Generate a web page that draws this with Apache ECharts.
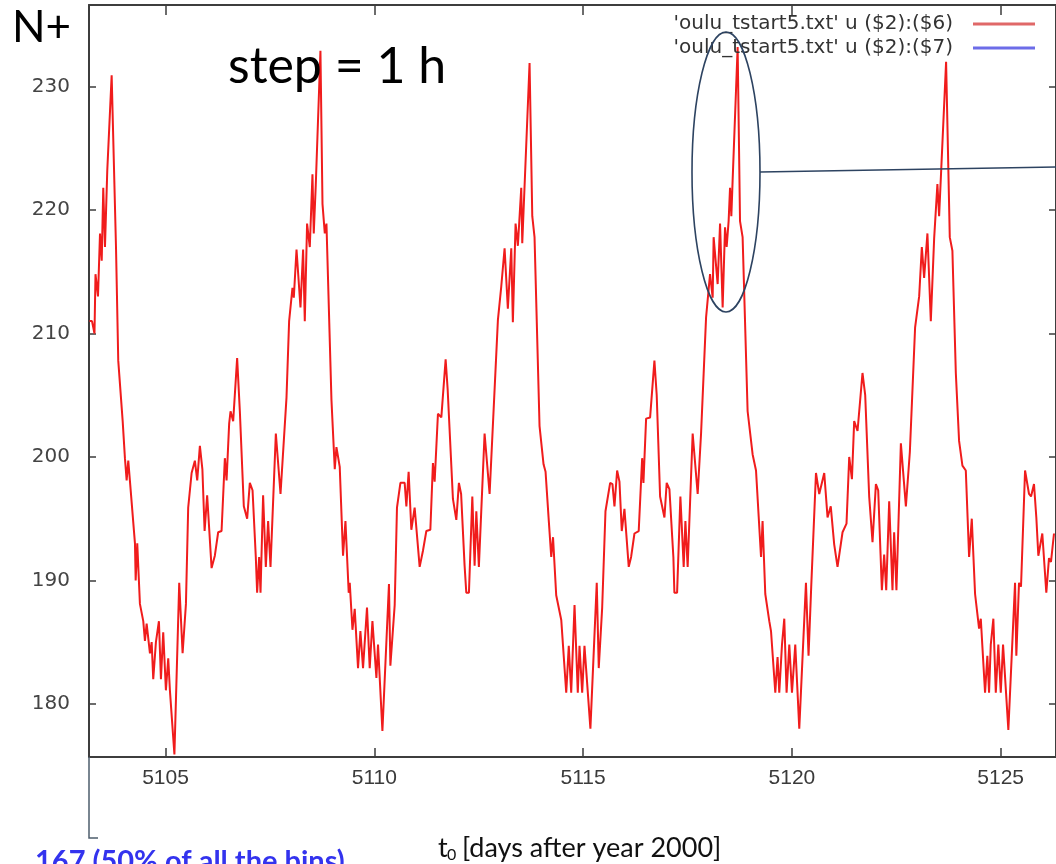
<!DOCTYPE html>
<html>
<head>
<meta charset="utf-8">
<script src="https://cdn.jsdelivr.net/npm/echarts@6/dist/echarts.min.js"></script>
<style>
  html, body { margin: 0; padding: 0; background: #ffffff; }
  #chart { width: 1056px; height: 864px; }
</style>
</head>
<body>
<div id="chart"></div>
<script>
// Hourly N+ counts from oulu_tstart5.txt: [t0 in days after 2000-01-01, N+]
const cycle1 = [
  [5103.179, 211.0], [5103.239, 211.0], [5103.299, 210.0], [5103.323, 214.8], [5103.383, 213.0],
  [5103.431, 218.1], [5103.472, 215.9], [5103.509, 221.8], [5103.550, 217.0], [5103.605, 223.2],
  [5103.710, 230.9], [5103.814, 217.0], [5103.868, 207.8], [5103.974, 202.9], [5104.028, 199.9],
  [5104.069, 198.1], [5104.108, 199.7], [5104.149, 198.0], [5104.268, 193.0], [5104.285, 190.0],
  [5104.323, 193.0], [5104.387, 188.1], [5104.467, 186.7], [5104.507, 185.1], [5104.548, 186.5],
  [5104.627, 184.1], [5104.668, 185.0], [5104.706, 182.0], [5104.770, 185.0], [5104.842, 186.7],
  [5104.890, 182.0], [5104.945, 185.8], [5105.009, 181.1], [5105.065, 183.7], [5105.105, 181.1],
  [5105.213, 175.9]
];
const cycle2 = [
  [5105.328, 189.8], [5105.409, 184.1], [5105.489, 188.1], [5105.543, 195.9], [5105.625, 198.7],
  [5105.703, 199.7], [5105.759, 198.1], [5105.823, 200.9], [5105.883, 199.0], [5105.936, 194.0],
  [5105.997, 196.9], [5106.103, 191.0], [5106.181, 192.0], [5106.261, 193.9], [5106.342, 194.0],
  [5106.421, 199.9], [5106.462, 198.1], [5106.524, 202.7], [5106.557, 203.7], [5106.620, 202.9],
  [5106.715, 208.0], [5106.780, 203.7], [5106.875, 196.0], [5106.955, 195.0], [5107.019, 197.9],
  [5107.084, 197.3], [5107.162, 191.9], [5107.194, 189.0], [5107.242, 191.9], [5107.275, 189.0],
  [5107.337, 196.9], [5107.402, 191.1], [5107.457, 194.8], [5107.514, 191.1], [5107.642, 201.9],
  [5107.754, 197.0], [5107.897, 204.8], [5107.960, 211.0], [5108.040, 213.7], [5108.072, 212.9],
  [5108.137, 216.8], [5108.232, 212.1], [5108.295, 216.8], [5108.335, 211.0], [5108.390, 218.9],
  [5108.455, 217.0], [5108.519, 222.9], [5108.550, 218.1], [5108.598, 222.0], [5108.710, 232.9],
  [5108.759, 220.5], [5108.814, 218.1], [5108.854, 218.9], [5108.974, 204.6], [5109.053, 199.0],
  [5109.093, 200.8], [5109.172, 199.2], [5109.251, 192.0], [5109.309, 194.8], [5109.387, 189.0],
  [5109.412, 189.8], [5109.477, 186.0], [5109.531, 187.7], [5109.610, 182.9], [5109.667, 185.9],
  [5109.730, 182.9], [5109.825, 187.8], [5109.890, 182.9], [5109.955, 186.7], [5110.050, 182.1],
  [5110.089, 184.8], [5110.194, 177.8]
];
const cycle3 = [
  [5110.351, 189.7], [5110.385, 183.1], [5110.488, 188.0], [5110.543, 195.9], [5110.625, 197.9],
  [5110.727, 197.9], [5110.768, 196.0], [5110.822, 198.8], [5110.887, 194.1], [5110.966, 195.9],
  [5111.086, 191.1], [5111.165, 192.4], [5111.246, 194.0], [5111.342, 194.1], [5111.404, 199.5],
  [5111.445, 198.0], [5111.524, 203.5], [5111.605, 203.2], [5111.708, 207.9], [5111.756, 205.5],
  [5111.883, 196.6], [5111.964, 194.9], [5112.026, 197.9], [5112.079, 197.0], [5112.162, 191.2],
  [5112.203, 189.0], [5112.266, 189.0], [5112.347, 196.8], [5112.402, 191.2], [5112.443, 195.6],
  [5112.504, 191.1], [5112.641, 201.9], [5112.761, 197.0], [5112.960, 211.1], [5113.040, 213.8],
  [5113.120, 216.9], [5113.198, 212.0], [5113.280, 216.9], [5113.318, 210.9], [5113.383, 218.9],
  [5113.438, 217.1], [5113.519, 221.8], [5113.543, 217.3], [5113.718, 231.9], [5113.783, 219.5],
  [5113.837, 217.8], [5113.957, 202.5], [5114.053, 199.4], [5114.101, 198.8], [5114.179, 194.8],
  [5114.237, 191.9], [5114.280, 193.5], [5114.356, 188.8], [5114.477, 186.8], [5114.596, 180.9],
  [5114.657, 184.7], [5114.715, 180.9], [5114.795, 188.0], [5114.873, 180.9], [5114.914, 184.7],
  [5114.978, 180.9], [5115.033, 184.7], [5115.175, 178.0]
];
const cycle4 = [
  [5115.327, 189.8], [5115.375, 182.9], [5115.457, 187.8], [5115.536, 195.6], [5115.648, 197.9],
  [5115.703, 197.8], [5115.751, 196.0], [5115.815, 198.9], [5115.871, 198.0], [5115.926, 194.0],
  [5115.990, 195.8], [5116.093, 191.1], [5116.150, 191.9], [5116.230, 193.8], [5116.332, 194.0],
  [5116.414, 199.9], [5116.445, 197.9], [5116.509, 203.1], [5116.605, 203.2], [5116.708, 207.8],
  [5116.763, 205.0], [5116.844, 196.8], [5116.948, 195.1], [5117.002, 197.9], [5117.067, 197.4],
  [5117.162, 191.9], [5117.186, 189.0], [5117.251, 189.0], [5117.330, 196.8], [5117.409, 191.1],
  [5117.450, 194.8], [5117.504, 191.1], [5117.624, 201.9], [5117.744, 197.0], [5117.825, 201.9],
  [5117.945, 211.3], [5118.040, 214.8], [5118.103, 212.9], [5118.126, 217.8], [5118.222, 214.0],
  [5118.280, 218.9], [5118.342, 212.1], [5118.399, 218.6], [5118.438, 217.0], [5118.485, 219.1],
  [5118.519, 221.8], [5118.550, 219.5], [5118.581, 222.4], [5118.701, 233.2], [5118.758, 219.1],
  [5118.820, 217.8], [5118.940, 203.7], [5119.060, 200.2], [5119.141, 198.9], [5119.261, 191.9],
  [5119.298, 194.8], [5119.363, 188.9], [5119.459, 186.7], [5119.500, 185.9], [5119.603, 180.9],
  [5119.657, 183.8], [5119.698, 180.9], [5119.763, 184.8], [5119.818, 186.9], [5119.873, 180.9],
  [5119.938, 184.8], [5120.002, 180.9], [5120.081, 184.8], [5120.177, 178.0]
];
const cycle5 = [
  [5120.337, 189.8], [5120.399, 183.9], [5120.463, 189.5], [5120.577, 198.7], [5120.655, 197.0],
  [5120.775, 198.7], [5120.854, 195.1], [5120.931, 196.0], [5121.014, 192.9], [5121.093, 191.1],
  [5121.213, 193.9], [5121.308, 194.6], [5121.373, 200.0], [5121.438, 198.2], [5121.492, 202.9],
  [5121.572, 202.1], [5121.691, 206.8], [5121.756, 205.0], [5121.851, 196.8], [5121.931, 193.1],
  [5122.012, 197.8], [5122.067, 197.3], [5122.155, 189.2], [5122.210, 192.1], [5122.259, 189.2],
  [5122.330, 196.4], [5122.409, 189.2], [5122.449, 193.9], [5122.504, 189.2], [5122.610, 201.1],
  [5122.730, 196.0], [5122.825, 200.4], [5122.951, 210.5], [5123.048, 213.0], [5123.112, 217.0],
  [5123.167, 214.5], [5123.246, 218.1], [5123.327, 211.0], [5123.407, 217.7], [5123.485, 222.1],
  [5123.526, 219.5], [5123.693, 232.0], [5123.781, 217.8], [5123.844, 216.7], [5123.926, 206.8],
  [5124.004, 201.3], [5124.084, 199.3], [5124.165, 198.9], [5124.244, 191.9], [5124.308, 195.0],
  [5124.387, 188.9], [5124.442, 187.3], [5124.483, 186.1], [5124.524, 186.9], [5124.626, 180.9],
  [5124.681, 183.9], [5124.722, 180.9], [5124.763, 184.8], [5124.825, 186.9], [5124.883, 180.9],
  [5124.944, 184.8], [5125.002, 180.9], [5125.057, 184.8], [5125.184, 177.9], [5125.344, 189.8],
  [5125.375, 183.9], [5125.439, 189.8], [5125.487, 189.5], [5125.584, 198.9], [5125.679, 197.0],
  [5125.727, 196.8], [5125.798, 197.8], [5125.854, 195.1], [5125.902, 192.0], [5125.997, 193.8],
  [5126.093, 189.0], [5126.157, 191.8], [5126.205, 191.5], [5126.277, 193.8]
];
// column 7 of the same file: nothing falls inside the plotted range
const column7 = [];

const SERIES_NAMES = ["'oulu_tstart5.txt' u ($2):($6)", "'oulu_tstart5.txt' u ($2):($7)"];
const X_RANGE = [5103.1675, 5126.325];
const Y_RANGE = [175.7, 236.6];

const AXIS_COLOR = '#3d3d3d';
const plain = v => String(v);

function frameAxis(extra) {
  return Object.assign({
    type: 'value',
    axisLine: { show: true, onZero: false, lineStyle: { color: AXIS_COLOR, width: 2 } },
    splitLine: { show: false }
  }, extra);
}

const chart = echarts.init(document.getElementById('chart'), null, { renderer: 'canvas' });

chart.setOption({
  animation: false,
  backgroundColor: '#ffffff',
  grid: { left: 89, top: 5, width: 968, height: 752, containLabel: false },
  xAxis: [
    frameAxis({
      position: 'bottom', min: X_RANGE[0], max: X_RANGE[1], splitNumber: 5,
      axisTick: { show: true, inside: true, length: 9, lineStyle: { color: AXIS_COLOR, width: 1.5 } },
      axisLabel: {
        showMinLabel: false, showMaxLabel: false, margin: 11,
        fontFamily: 'Liberation Sans', fontSize: 21, color: '#3a3a3a', formatter: plain
      }
    }),
    frameAxis({
      position: 'top', min: X_RANGE[0], max: X_RANGE[1], splitNumber: 5,
      axisTick: { show: true, inside: true, length: 10, lineStyle: { color: AXIS_COLOR, width: 1.5 } },
      axisLabel: { show: false }
    })
  ],
  yAxis: [
    frameAxis({
      position: 'left', min: Y_RANGE[0], max: Y_RANGE[1], splitNumber: 6,
      axisTick: { show: true, inside: true, length: 7, lineStyle: { color: AXIS_COLOR, width: 1.5 } },
      axisLabel: {
        showMinLabel: false, showMaxLabel: false, margin: 19,
        fontFamily: 'DejaVu Sans', fontSize: 20, color: '#444444', formatter: plain
      }
    }),
    frameAxis({
      position: 'right', min: Y_RANGE[0], max: Y_RANGE[1], splitNumber: 6,
      axisTick: { show: true, inside: true, length: 7, lineStyle: { color: AXIS_COLOR, width: 1.5 } },
      axisLabel: { show: false }
    })
  ],
  legend: {
    orient: 'vertical', right: 16, top: 9, align: 'right',
    itemWidth: 62, itemHeight: 3, itemGap: 4, icon: 'rect', selectedMode: false,
    textStyle: { fontFamily: 'DejaVu Sans', fontSize: 20, color: '#333333', lineHeight: 20, padding: [0, 15, 0, 0] },
    data: [
      { name: SERIES_NAMES[0], itemStyle: { color: '#e06868' } },
      { name: SERIES_NAMES[1], itemStyle: { color: '#6c6ce8' } }
    ]
  },
  series: [
    {
      name: SERIES_NAMES[0], type: 'line', xAxisIndex: 0, yAxisIndex: 0,
      data: [].concat(cycle1, cycle2, cycle3, cycle4, cycle5),
      showSymbol: false, symbol: 'none',
      lineStyle: { color: '#f01c1c', width: 2 }, itemStyle: { color: '#f01c1c' }
    },
    {
      name: SERIES_NAMES[1], type: 'line', xAxisIndex: 0, yAxisIndex: 0,
      data: column7, showSymbol: false, symbol: 'none',
      lineStyle: { color: '#6c6ce8', width: 2 }, itemStyle: { color: '#6c6ce8' }
    }
  ],
  graphic: [
    { type: 'text', x: 12, y: 28, z: 20,
      style: { text: 'N+', font: '44px Lato', fill: '#000000', align: 'left', verticalAlign: 'middle' } },
    { type: 'text', x: 228, y: 67, z: 20,
      style: { text: 'step = 1 h', font: '50px Lato', fill: '#000000', align: 'left', verticalAlign: 'middle' } },
    // highlighted peak and its call-out line
    { type: 'ellipse', z: 20, shape: { cx: 726, cy: 172, rx: 34, ry: 140 },
      style: { fill: null, stroke: '#2d4361', lineWidth: 1.6 } },
    { type: 'line', z: 20, shape: { x1: 760, y1: 172, x2: 1056, y2: 167 },
      style: { stroke: '#2d4361', lineWidth: 1.6 } },
    // bracket hanging below the start of the time axis
    { type: 'polyline', z: 20, shape: { points: [[89, 757], [89, 838], [98, 838]] },
      style: { fill: null, stroke: '#4e5d6c', lineWidth: 1.5 } },
    { type: 'text', x: 438, y: 848, z: 20,
      style: { text: 't', font: '27px Lato', fill: '#111111', align: 'left', verticalAlign: 'middle' } },
    { type: 'text', x: 447, y: 855, z: 20,
      style: { text: '0', font: '16px Lato', fill: '#111111', align: 'left', verticalAlign: 'middle' } },
    { type: 'text', x: 462, y: 848, z: 20,
      style: { text: '[days after year 2000]', font: '27px Lato', fill: '#111111', align: 'left', verticalAlign: 'middle' } },
    { type: 'text', x: 35, y: 862, z: 20,
      style: { text: '167 (50% of all the bins)', font: 'bold 29px Lato', fill: '#3333ee', align: 'left', verticalAlign: 'middle' } }
  ]
});
</script>
</body>
</html>
